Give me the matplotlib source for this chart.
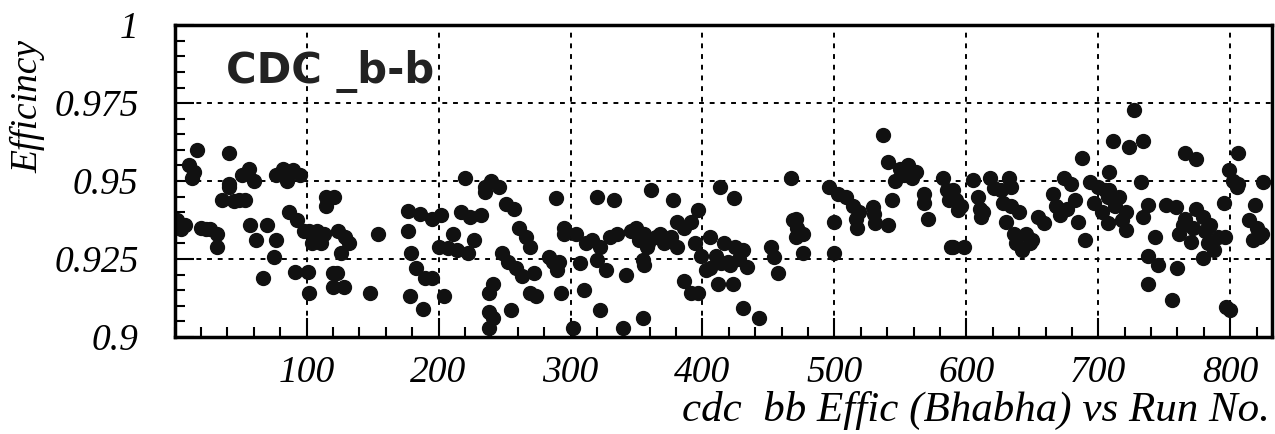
import matplotlib
matplotlib.use('Agg')
import matplotlib.pyplot as plt
from matplotlib.ticker import MultipleLocator

# ── Data ──────────────────────────────────────────────────────────────────────
run = [
    # 0-120
    2, 5, 8, 11, 13, 15, 17, 20, 24, 27, 32, 32, 36, 41, 41, 41, 45, 49, 51, 53,
    56, 57, 60, 62, 67, 70, 75, 77, 77, 82, 85, 87, 90, 91, 93, 95, 98, 101,
    102, 102, 104, 108, 111, 113, 115, 115, 120, 120,
    # 120-240
    121, 123, 124, 126, 128, 129, 132, 148, 154, 177, 177, 178, 179, 183, 186,
    188, 190, 195, 195, 200, 202, 204, 207, 211, 214, 217, 220, 222, 224, 227,
    232, 235, 235, 238, 238, 238,
    # 240-360
    240, 241, 241, 246, 248, 251, 253, 255, 257, 259, 261, 263, 266, 269, 269,
    272, 274, 284, 287, 289, 290, 291, 293, 295, 295, 302, 304, 307, 310, 312,
    316, 320, 320, 322, 322, 327, 330, 333, 335, 340, 342, 346, 350, 352, 355,
    355,
    # 360-480
    356, 356, 358, 359, 361, 365, 368, 371, 376, 378, 381, 381, 386, 386, 391,
    391, 394, 397, 397, 399, 403, 406, 406, 410, 412, 413, 414, 416, 419, 421,
    423, 424, 425, 428, 431, 431, 434, 443, 452, 454, 457, 467, 469, 471, 471,
    472, 476, 476,
    # 480-600
    496, 500, 500, 503, 509, 514, 516, 517, 519, 529, 530, 531, 537, 541, 541,
    544, 546, 550, 553, 556, 559, 562, 568, 568, 571, 582, 585, 587, 588, 590,
    590, 592, 594, 596, 598,
    # 600-700
    605, 609, 610, 611, 613, 618, 621, 626, 628, 630, 632, 634, 634, 636, 638,
    640, 642, 645, 648, 650, 654, 659, 666, 668, 671, 674, 676, 679, 682, 685,
    688, 690, 694, 697, 700, 703, 705, 707, 707,
    # 700-830
    708, 708, 711, 713, 716, 718, 721, 721, 723, 727, 732, 734, 734, 738, 738,
    738, 743, 745, 751, 756, 759, 760, 761, 764, 766, 766, 770, 772, 774, 774,
    779, 779, 781, 783, 785, 788, 791, 795, 796, 797, 799, 800, 802, 805, 806,
    806, 814, 817, 819, 820, 822, 824, 825,
]
eff = [
    # 0-120
    0.9375, 0.9345, 0.9360, 0.9550, 0.9510, 0.9530, 0.9600, 0.9350, 0.9345,
    0.9345, 0.9330, 0.9290, 0.9440, 0.9590, 0.9490, 0.9480, 0.9435, 0.9440,
    0.9520, 0.9440, 0.9540, 0.9360, 0.9500, 0.9310, 0.9190, 0.9360, 0.9256,
    0.9310, 0.9520, 0.9540, 0.9500, 0.9400, 0.9535, 0.9210, 0.9375, 0.9520,
    0.9340, 0.9210, 0.9140, 0.9340, 0.9300, 0.9340, 0.9300, 0.9330, 0.9450,
    0.9420, 0.9205, 0.9160,
    # 120-240
    0.9450, 0.9205, 0.9340, 0.9270, 0.9160, 0.9320, 0.9300, 0.9140, 0.9330,
    0.9405, 0.9340, 0.9130, 0.9270, 0.9220, 0.9395, 0.9090, 0.9190, 0.9380,
    0.9190, 0.9290, 0.9390, 0.9130, 0.9285, 0.9330, 0.9280, 0.9400, 0.9510,
    0.9270, 0.9385, 0.9310, 0.9390, 0.9480, 0.9465, 0.9140, 0.9080, 0.9030,
    # 240-360
    0.9500, 0.9170, 0.9060, 0.9480, 0.9270, 0.9425, 0.9240, 0.9087, 0.9410,
    0.9220, 0.9350, 0.9195, 0.9320, 0.9290, 0.9140, 0.9205, 0.9130, 0.9256,
    0.9240, 0.9445, 0.9215, 0.9240, 0.9140, 0.9350, 0.9330, 0.9030, 0.9330,
    0.9237, 0.9150, 0.9300, 0.9310, 0.9247, 0.9450, 0.9290, 0.9087, 0.9215,
    0.9320, 0.9440, 0.9330, 0.9030, 0.9200, 0.9340, 0.9350, 0.9310, 0.9247,
    0.9060,
    # 360-480
    0.9330, 0.9230, 0.9290, 0.9300, 0.9470, 0.9320, 0.9330, 0.9300, 0.9320,
    0.9440, 0.9370, 0.9290, 0.9350, 0.9180, 0.9370, 0.9140, 0.9300, 0.9407,
    0.9140, 0.9260, 0.9215, 0.9320, 0.9220, 0.9260, 0.9170, 0.9480, 0.9237,
    0.9300, 0.9240, 0.9230, 0.9170, 0.9445, 0.9290, 0.9250, 0.9093, 0.9280,
    0.9225, 0.9060, 0.9290, 0.9256, 0.9205, 0.9510, 0.9375, 0.9380, 0.9320,
    0.9350, 0.9330, 0.9270,
    # 480-600
    0.9480, 0.9370, 0.9270, 0.9460, 0.9450, 0.9420, 0.9380, 0.9350, 0.9400,
    0.9417, 0.9395, 0.9365, 0.9647, 0.9560, 0.9360, 0.9440, 0.9500, 0.9540,
    0.9520, 0.9550, 0.9510, 0.9530, 0.9460, 0.9430, 0.9380, 0.9510, 0.9470,
    0.9440, 0.9290, 0.9470, 0.9290, 0.9440, 0.9407, 0.9420, 0.9290,
    # 600-700
    0.9503, 0.9450, 0.9410, 0.9385, 0.9400, 0.9510, 0.9478, 0.9470, 0.9430,
    0.9370, 0.9510, 0.9420, 0.9480, 0.9330, 0.9300, 0.9400, 0.9280, 0.9330,
    0.9300, 0.9310, 0.9385, 0.9365, 0.9460, 0.9420, 0.9390, 0.9510, 0.9410,
    0.9490, 0.9440, 0.9370, 0.9574, 0.9310, 0.9497, 0.9430, 0.9480, 0.9400,
    0.9470, 0.9365, 0.9450,
    # 700-830
    0.9530, 0.9470, 0.9630, 0.9420, 0.9450, 0.9375, 0.9343, 0.9400, 0.9610,
    0.9728, 0.9497, 0.9385, 0.9630, 0.9423, 0.9260, 0.9170, 0.9320, 0.9230,
    0.9423, 0.9120, 0.9417, 0.9220, 0.9330, 0.9360, 0.9590, 0.9380, 0.9305,
    0.9350, 0.9570, 0.9410, 0.9253, 0.9385, 0.9340, 0.9300, 0.9360, 0.9280,
    0.9320, 0.9430, 0.9320, 0.9096, 0.9535, 0.9087, 0.9500, 0.9480, 0.9590,
    0.9490, 0.9375, 0.9310, 0.9423, 0.9350, 0.9320, 0.9330, 0.9497,
]
err = 0.0018

x_ticks = [100, 200, 300, 400, 500, 600, 700, 800]
y_ticks = [0.9, 0.925, 0.95, 0.975, 1.0]
y_tick_labels = ['0.9', '0.925', '0.95', '0.975', '1']

# ── Plot ─────────────────────────────────────────────────────────────────────
SERIF = 'Liberation Serif'
fig = plt.figure(figsize=(12.75, 4.34), dpi=100)
ax = fig.add_axes([0.137, 0.2235, 0.861, 0.7185])

ax.errorbar(run, eff, yerr=err, fmt='o', color='#111111', ms=10,
            elinewidth=1.2, capsize=0, mec='#111111')

ax.set_xlim(0, 832)
ax.set_ylim(0.9, 1.0)
ax.set_xticks(x_ticks)
ax.set_xticklabels([str(t) for t in x_ticks])
ax.set_yticks(y_ticks)
ax.set_yticklabels(y_tick_labels)
ax.xaxis.set_minor_locator(MultipleLocator(20))
ax.yaxis.set_minor_locator(MultipleLocator(0.005))

ax.grid(True, which='major', color='black', linestyle=(0, (2.5, 3)), linewidth=1.4)
ax.tick_params(which='both', direction='in', top=False, right=False)
ax.tick_params(which='major', length=14, width=1.5)
ax.tick_params(which='minor', length=7, width=1.5)
ax.tick_params(axis='y', which='major', pad=26)
ax.tick_params(axis='x', which='major', pad=13)
for lab in ax.get_xticklabels() + ax.get_yticklabels():
    lab.set_fontfamily(SERIF)
    lab.set_fontstyle('italic')
    lab.set_fontsize(27)
for sp in ax.spines.values():
    sp.set_linewidth(2.5)

ax.set_ylabel('Efficincy', fontsize=27, fontstyle='italic', family=SERIF)
ax.yaxis.set_label_coords(-0.118, 0.74)

fig.text(0.996, 1 - 410 / 434, 'cdc  bb Effic (Bhabha) vs Run No.',
         ha='right', va='center', fontsize=31, fontstyle='italic', family=SERIF)

ax.text(39, 0.985, 'CDC _b-b', fontsize=30, fontweight='bold',
        family='DejaVu Sans', ha='left', va='center', color='#222222')

plt.savefig('out.png', dpi=100)
plt.close()
